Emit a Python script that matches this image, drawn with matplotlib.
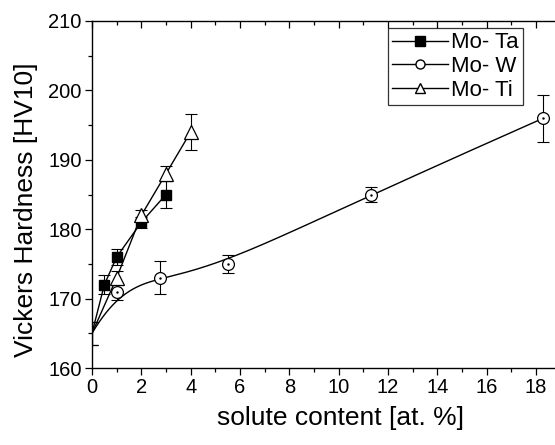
import numpy as np
import matplotlib
matplotlib.use("Agg")
import matplotlib.pyplot as plt
from matplotlib.lines import Line2D
from matplotlib.ticker import MultipleLocator

plt.rcParams['font.family'] = ['Liberation Sans', 'DejaVu Sans']

# Data
ta_x = [0, 0.5, 1, 2, 3]
ta_y = [165, 172, 176, 181, 185]
ta_err = [1.7, 1.4, 1.2, 0.8, 1.9]

w_x = [0, 1, 2.75, 5.5, 11.3, 18.3]
w_y = [165, 171, 173, 175, 185, 196]
w_err = [1.7, 1.2, 2.4, 1.3, 1.1, 3.4]

ti_x = [0, 1, 2, 3, 4]
ti_y = [165, 173, 182, 188, 194]
ti_err = [1.7, 1.0, 0.8, 1.1, 2.6]

labels = ["Mo- Ta", "Mo- W", "Mo- Ti"]


def bspline(px, py, deg=3, num=500):
    """Clamped uniform B-spline using the data points as control points."""
    P = np.column_stack([px, py]).astype(float)
    n = len(P)
    k = min(deg, n - 1)
    inner = np.arange(1, n - k) / (n - k)
    knots = np.concatenate([np.zeros(k + 1), inner, np.ones(k + 1)])
    ts = np.linspace(0, 1, num)
    ts[-1] = 1 - 1e-12

    def basis(i, p, t):
        if p == 0:
            return 1.0 if knots[i] <= t < knots[i + 1] else 0.0
        a = 0.0
        if knots[i + p] != knots[i]:
            a = (t - knots[i]) / (knots[i + p] - knots[i]) * basis(i, p - 1, t)
        b = 0.0
        if knots[i + p + 1] != knots[i + 1]:
            b = (knots[i + p + 1] - t) / (knots[i + p + 1] - knots[i + 1]) * basis(i + 1, p - 1, t)
        return a + b

    pts = np.array([sum(basis(i, k, t) * P[i] for i in range(n)) for t in ts])
    return pts[:, 0], pts[:, 1]


fig = plt.figure(figsize=(5.55, 4.45), dpi=100)
ax = fig.add_axes([92 / 555, 1 - 368 / 445, (19 * 24.67) / 555, (368 - 21) / 445])

lw = 1.0
ebkw = dict(ecolor='black', elinewidth=0.8, capsize=4, capthick=0.8, fmt='none', zorder=3)

def markers(x, y, **kw):
    xa = np.asarray(x); ya = np.asarray(y)
    m = xa > 0
    ax.plot(xa[m], ya[m], linestyle='none', zorder=4, **kw)

# Mo-Ta
ax.plot(ta_x, ta_y, '-', color='black', lw=lw, zorder=2)
ax.errorbar(ta_x, ta_y, yerr=ta_err, **ebkw)
markers(ta_x, ta_y, marker='s', ms=7.5, mfc='black', mec='black')
# Mo-W
bx, by = bspline(w_x, w_y)
ax.plot(bx, by, '-', color='black', lw=lw, zorder=2)
ax.errorbar(w_x, w_y, yerr=w_err, **ebkw)
markers(w_x, w_y, marker='o', ms=8.5, mfc='white', mec='black', mew=0.9)
markers(w_x, w_y, marker='.', ms=1.5, color='black')
# Mo-Ti
ax.plot(ti_x, ti_y, '-', color='black', lw=lw, zorder=2)
ax.errorbar(ti_x, ti_y, yerr=ti_err, **ebkw)
markers(ti_x, ti_y, marker='^', ms=10, mfc='white', mec='black', mew=0.9)

ax.set_xlim(0, 19)
ax.set_ylim(160, 210)
ax.xaxis.set_major_locator(MultipleLocator(2))
ax.xaxis.set_minor_locator(MultipleLocator(1))
ax.yaxis.set_major_locator(MultipleLocator(10))
ax.yaxis.set_minor_locator(MultipleLocator(5))
ax.tick_params(which='both', direction='out', right=False, labelsize=14.5, width=0.9, color='black')
ax.tick_params(which='major', length=5, pad=2.5)
ax.tick_params(which='minor', length=3)
ax.tick_params(axis='x', which='both', top=True, labeltop=False)
# top ticks point inward
for t in ax.xaxis.get_major_ticks() + ax.xaxis.get_minor_ticks():
    t.tick2line.set_marker(3)  # TICKDOWN
for sp in ax.spines.values():
    sp.set_linewidth(1.0)
ax.spines['right'].set_visible(False)

ax.set_xlabel("solute content [at. %]", fontsize=19)
ax.set_ylabel("Vickers Hardness [HV10]", fontsize=19)
ax.xaxis.set_label_coords(0.531, -0.11)
ax.yaxis.set_label_coords(-0.115, 0.455)

handles = [
    Line2D([], [], color='black', lw=1, marker='s', ms=6.5, mfc='black', mec='black'),
    Line2D([], [], color='black', lw=1, marker='o', ms=6.5, mfc='white', mec='black'),
    Line2D([], [], color='black', lw=1, marker='^', ms=7, mfc='white', mec='black'),
]
leg = ax.legend(handles, labels, loc='upper left', fontsize=16,
                frameon=True, fancybox=False, edgecolor='black', handlelength=2.5, handletextpad=0.15,
                borderpad=0.2, labelspacing=0.12, borderaxespad=0)
leg.set_bbox_to_anchor((388 / 555, 1 - 28 / 445), transform=fig.transFigure)
leg.get_frame().set_linewidth(0.9)

fig.savefig("out.png", dpi=100)
